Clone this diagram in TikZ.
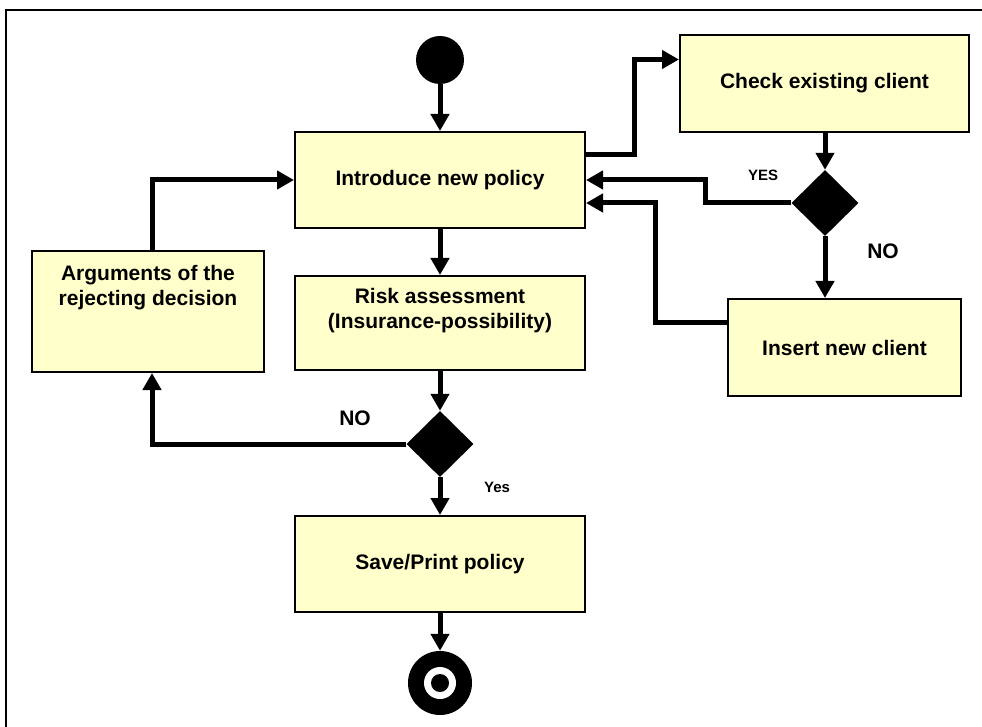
\documentclass[tikz,border=0pt]{standalone}
\usepackage{fontspec}
\setmainfont{Liberation Sans}
\usetikzlibrary{arrows.meta,shapes.geometric}
\definecolor{notefill}{HTML}{FFFFCC}
\tikzset{
	act/.style={draw, line width=2pt, fill=notefill, inner sep=0pt},
	flow/.style={line width=5pt, -{Triangle[length=17pt,width=18pt]}},
	choice/.style={diamond, fill=black, inner sep=0pt, minimum width=67pt, minimum height=66pt},
	txt/.style={font=\bfseries\fontsize{21}{25}\selectfont, align=center},
	small/.style={font=\bfseries\fontsize{15}{18}\selectfont},
}
\begin{document}
\begin{tikzpicture}[x=1pt, y=-1pt]
	\useasboundingbox (0,0) rectangle (982,727);
	\draw[line width=2pt] (982,10) -- (6,10) -- (6,727);

	% Nodes
	\node[circle, fill=black, minimum size=48pt, inner sep=0pt] (start) at (440,60) {};
	\node[act, minimum width=290pt, minimum height=96pt, txt] (intro) at (440,180) {Introduce new policy};
	\node[act, minimum width=289pt, minimum height=97pt, txt] (check) at (824.5,83.5) {Check existing client};
	\node[choice] (d1) at (825,203) {};
	\node[act, minimum width=233pt, minimum height=97pt, txt] (insert) at (844.5,347.5) {Insert new client};
	\node[act, minimum width=290pt, minimum height=94pt] (risk) at (440,323) {};
	\node[txt] (risktxt) at (440,311) {Risk assessment\\(Insurance-possibility)};
	\node[act, minimum width=232pt, minimum height=121pt] (args) at (148,311.5) {};
	\node[txt] (argstxt) at (148,288) {Arguments of the\\rejecting decision};
	\node[choice] (d2) at (440,444) {};
	\node[act, minimum width=290pt, minimum height=96pt, txt] (save) at (440,564) {Save/Print policy};
	\node[circle, fill=black, minimum size=64pt, inner sep=0pt] (stop) at (440,683) {};
	\fill[white] (stop) circle (16);
	\fill[black] (stop) circle (9);

	% Labels
	\node[small] (yes1) at (763,175) {YES};
	\node[txt] (no1) at (883,251) {NO};
	\node[txt] (no2) at (355,418) {NO};
	\node[small] (yes2) at (497,487) {Yes};

	% Arrows
	\draw[flow] (start) -- (intro);
	\draw[flow] ([yshift=25pt]intro.east) -- ++(48,0) |- ([yshift=24pt]check.west);
	\draw[flow] (d1.north |- check.south) -- (d1.north);
	\draw[flow] (d1.west) -- ++(-86,0) |- (intro.east);
	\draw[flow] (d1.south) -- (d1.south |- insert.north);
	\draw[flow] ([yshift=25pt]insert.west) -- ++(-72,0) |- ([yshift=-23pt]intro.east);
	\draw[flow] (intro) -- (risk);
	\draw[flow] (risk) -- (d2);
	\draw[flow] (d2.west) -| ([xshift=4pt]args.south);
	\draw[flow] (d2) -- (save);
	\draw[flow] ([xshift=4pt]args.north) |- (intro.west);
	\draw[flow] (save) -- (stop);
\end{tikzpicture}
\end{document}
